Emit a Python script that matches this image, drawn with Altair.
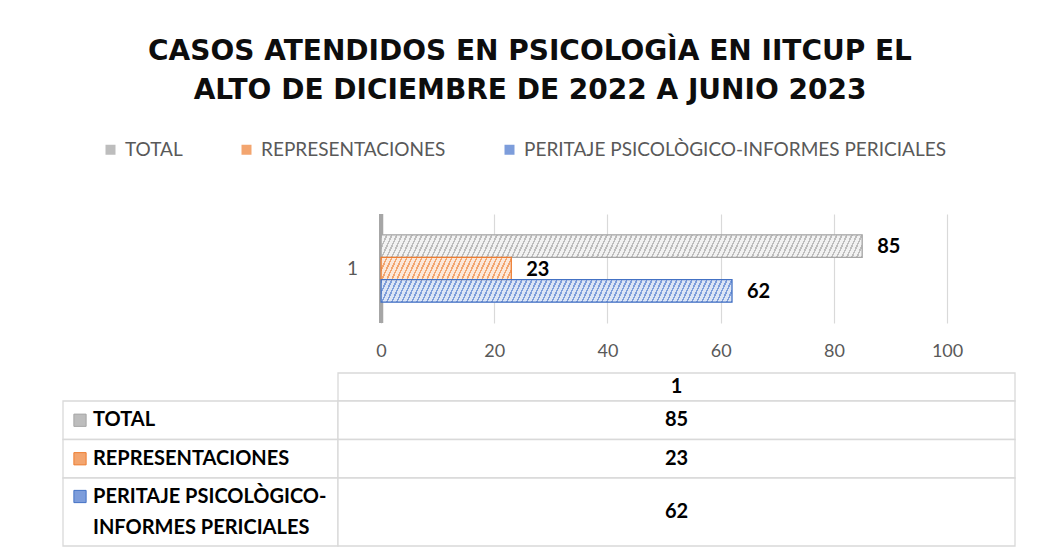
import altair as alt
import pandas as pd
import numpy as np

# ---------------- data ----------------
TITLE = ["CASOS ATENDIDOS EN PSICOLOGÌA EN IITCUP EL", "ALTO DE DICIEMBRE DE 2022 A JUNIO 2023"]
CATEGORY = "1"
SERIES = ["TOTAL", "REPRESENTACIONES", "PERITAJE PSICOLÒGICO-INFORMES PERICIALES"]
VALUES = [85, 23, 62]
X_TICKS = [0, 20, 40, 60, 80, 100]

# ---------------- styles ----------------
LIGHT = ["#f2f2f2", "#fce8da", "#dce5f5"]
DARK = ["#bdbdbd", "#f3a56f", "#7d9ddb"]
EDGE = ["#a5a5a5", "#ed7d31", "#4472c4"]
FONT = "Lato"
GRID = "#d9d9d9"
AXIS_TXT = "#595959"

# ---------------- layout ----------------
W = 952            # plot / table width
BAR_H = 109        # bar plot height
X_MIN, X_MAX = -56.2, 112.0
PX = W / (X_MAX - X_MIN)
BAND_PAD = 0.31
SUB_H = BAR_H / (1 + 2 * BAND_PAD) / len(SERIES)
ROW_H = [28, 38.5, 38.5, 68]
SPLIT = 275 / W
SWATCH_X = 17 / W
LABEL_X = 30 / W
LINE_H = 31


def stripes(width_px, height_px, light, k=0.45, period=5.0, line=1.7):
    total = width_px + k * height_px
    r = k * height_px / width_px
    c = (1 + r) / (1 + r * r)
    clear = "rgba(255,255,255,0)"
    stops = []
    s = 0.0
    while s < total:
        a = round(s / total, 5)
        b = round(min((s + line) / total, 1.0), 5)
        e = round(min((s + period) / total, 1.0), 5)
        stops += [
            alt.GradientStop(offset=a, color=clear),
            alt.GradientStop(offset=b, color=clear),
            alt.GradientStop(offset=b, color=light),
            alt.GradientStop(offset=e, color=light),
        ]
        s += period
    return alt.LinearGradient(gradient="linear", stops=stops, x1=0, y1=0, x2=c, y2=c * r)


df = pd.DataFrame({"category": [CATEGORY] * len(SERIES), "series": SERIES, "value": VALUES})

x_scale = alt.Scale(domain=[X_MIN, X_MAX], nice=False, zero=False)
x_enc = alt.X(
    "value:Q", scale=x_scale, stack=None, title=None,
    axis=alt.Axis(values=X_TICKS, grid=True, gridColor=GRID, gridWidth=1.2, domain=False, ticks=False,
                  labelFontSize=18, labelFont=FONT, labelColor=AXIS_TXT, labelPadding=19),
)
y_enc = alt.Y("category:N", axis=None, scale=alt.Scale(paddingInner=0, paddingOuter=BAND_PAD))
yo_enc = alt.YOffset("series:N", sort=SERIES, scale=alt.Scale(domain=SERIES, paddingInner=0, paddingOuter=0))

base = alt.Chart(df)

wall = base.mark_rule(color="#a6a6a6", strokeWidth=4).encode(x=alt.datum(0))

bars_base = base.mark_bar(strokeWidth=0).encode(
    x=x_enc, x2=alt.datum(0), y=y_enc, yOffset=yo_enc,
    fill=alt.Fill(
        "series:N", sort=SERIES, scale=alt.Scale(domain=SERIES, range=DARK),
        legend=alt.Legend(orient="none", legendX=38, legendY=-74, direction="horizontal", title=None,
                          symbolType="square", symbolSize=100, symbolStrokeWidth=0,
                          labelFontSize=19, labelFont=FONT, labelColor=AXIS_TXT,
                          columnPadding=54, labelOffset=5, labelLimit=700),
    ),
)

overlays = []
for i, s in enumerate(SERIES):
    grad = stripes(VALUES[i] * PX, SUB_H, LIGHT[i])
    overlays.append(
        base.transform_filter(alt.datum.series == s)
        .mark_bar(fill=grad, stroke=EDGE[i], strokeWidth=1.3)
        .encode(x=x_enc, x2=alt.datum(0), y=y_enc, yOffset=yo_enc)
    )

value_labels = base.mark_text(align="left", baseline="middle", dx=15, dy=1, fontSize=20,
                              fontWeight="bold", font=FONT, color="#000000").encode(
    x=x_enc, y=y_enc, yOffset=yo_enc, text="value:Q")

cat_label = alt.Chart(pd.DataFrame({"category": [CATEGORY]})).mark_text(
    align="right", baseline="middle", dx=-23, fontSize=19, font=FONT, color=AXIS_TXT
).encode(x=alt.datum(0), y=y_enc, text="category:N")

bar_chart = alt.layer(wall, bars_base, *overlays, value_labels, cat_label).properties(width=W, height=BAR_H)

# ---------------- data table ----------------
edges = np.cumsum([0] + ROW_H)
cells = [{"x": SPLIT, "x2": 1.0, "y": edges[0], "y2": edges[1]}]
for i in range(len(SERIES)):
    cells.append({"x": 0.0, "x2": SPLIT, "y": edges[i + 1], "y2": edges[i + 2]})
    cells.append({"x": SPLIT, "x2": 1.0, "y": edges[i + 1], "y2": edges[i + 2]})
cells_df = pd.DataFrame(cells)

labels = [s.replace("-", "-\n") for s in SERIES]
ymids = [(edges[i + 1] + edges[i + 2]) / 2 for i in range(len(SERIES))]
rows_df = pd.DataFrame({
    "series": SERIES,
    "label": labels,
    "value": [str(v) for v in VALUES],
    "ymid": ymids,
    "ylab": [m - (lab.count("\n")) * LINE_H / 2 for m, lab in zip(ymids, labels)],
    "xval": [(SPLIT + 1) / 2] * len(SERIES),
    "xlab": [LABEL_X] * len(SERIES),
    "xsw": [SWATCH_X] * len(SERIES),
})
rows_df["ysw"] = rows_df["ylab"]
head_df = pd.DataFrame({"text": [CATEGORY], "x": [(SPLIT + 1) / 2], "y": [(edges[0] + edges[1]) / 2]})

tx = alt.Scale(domain=[0, 1], nice=False, zero=False)
ty = alt.Scale(domain=[0, float(edges[-1])], nice=False, zero=False, reverse=True)

t_cells = alt.Chart(cells_df).mark_rect(fill="white", stroke=GRID, strokeWidth=1.3).encode(
    x=alt.X("x:Q", scale=tx, axis=None), x2="x2:Q",
    y=alt.Y("y:Q", scale=ty, axis=None), y2="y2:Q")

t_head = alt.Chart(head_df).mark_text(fontSize=20, fontWeight="bold", font=FONT, color="#000000").encode(
    x=alt.X("x:Q", scale=tx, axis=None), y=alt.Y("y:Q", scale=ty, axis=None), text="text:N")

t_vals = alt.Chart(rows_df).mark_text(fontSize=20, fontWeight="bold", font=FONT, color="#000000").encode(
    x=alt.X("xval:Q", scale=tx, axis=None), y=alt.Y("ymid:Q", scale=ty, axis=None), text="value:N")

t_labels = alt.Chart(rows_df).mark_text(align="left", baseline="middle", fontSize=20, fontWeight="bold",
                                         font=FONT, color="#000000", lineBreak="\n", lineHeight=LINE_H).encode(
    x=alt.X("xlab:Q", scale=tx, axis=None), y=alt.Y("ylab:Q", scale=ty, axis=None), text="label:N")

t_swatch = alt.Chart(rows_df).mark_square(size=150, filled=True, strokeWidth=1, opacity=1).encode(
    x=alt.X("xsw:Q", scale=tx, axis=None), y=alt.Y("ysw:Q", scale=ty, axis=None),
    fill=alt.Fill("series:N", scale=alt.Scale(domain=SERIES, range=DARK), legend=None),
    stroke=alt.Stroke("series:N", scale=alt.Scale(domain=SERIES, range=EDGE), legend=None))

table = alt.layer(t_cells, t_head, t_vals, t_labels, t_swatch).properties(width=W, height=float(edges[-1]))

chart = alt.vconcat(bar_chart, table, spacing=12).resolve_scale(
    x="independent", y="independent", fill="independent", stroke="independent"
).resolve_legend(fill="independent", stroke="independent").properties(
    title=alt.TitleParams(text=TITLE, fontSize=28, font="DejaVu Sans", fontWeight="bold", color="#0d0d0d",
                          anchor="middle", lineHeight=39, offset=35, dx=-9),
    padding={"left": 54, "top": 30, "right": 5, "bottom": 2},
    background="white",
).configure_view(strokeWidth=0)

chart.save("out.html", embed_options={"renderer": "svg", "actions": False})
